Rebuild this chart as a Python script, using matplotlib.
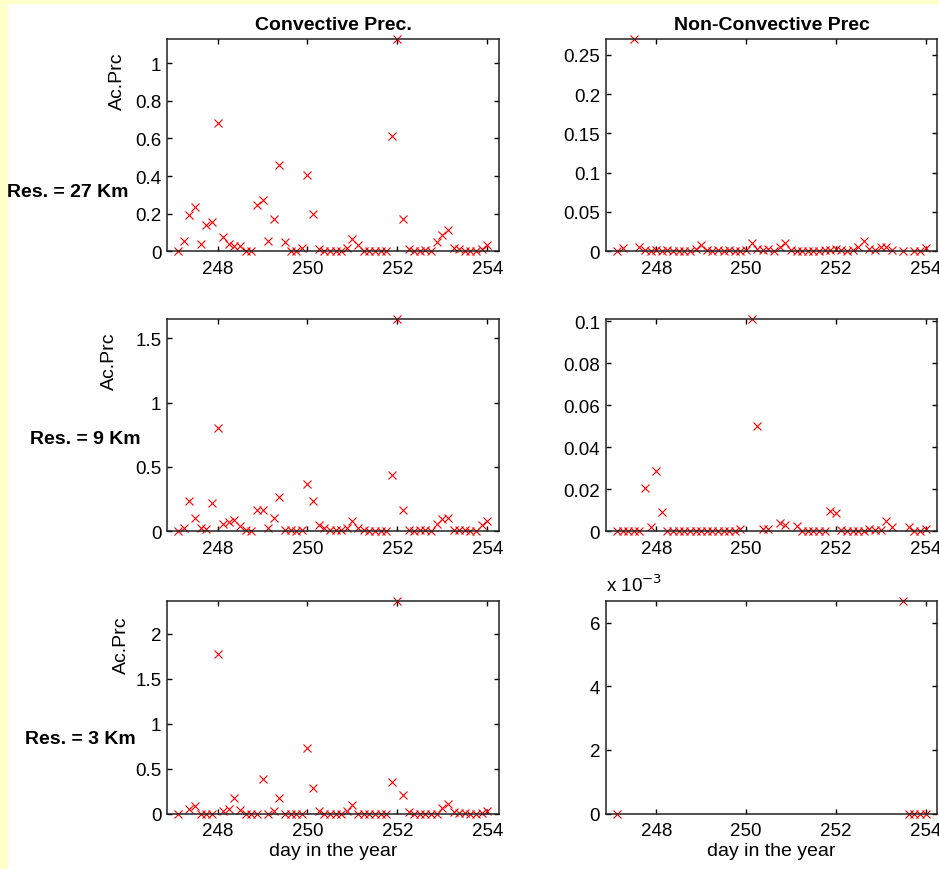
from matplotlib import pyplot as plt
import matplotlib.patches as patches
from matplotlib.ticker import FuncFormatter
import numpy as np

nan = np.nan

# 3-hourly steps, day of the year
dias = [247.125, 247.25, 247.375, 247.5, 247.625, 247.75, 247.875, 248.0,
        248.125, 248.25, 248.375, 248.5, 248.625, 248.75, 248.875, 249.0,
        249.125, 249.25, 249.375, 249.5, 249.625, 249.75, 249.875, 250.0,
        250.125, 250.25, 250.375, 250.5, 250.625, 250.75, 250.875, 251.0,
        251.125, 251.25, 251.375, 251.5, 251.625, 251.75, 251.875, 252.0,
        252.125, 252.25, 252.375, 252.5, 252.625, 252.75, 252.875, 253.0,
        253.125, 253.25, 253.375, 253.5, 253.625, 253.75, 253.875, 254.0]

conv_27 = [0.0, 0.057, 0.195, 0.234, 0.041, 0.142, 0.156, 0.684,
           0.076, 0.041, 0.027, 0.027, 0.0, 0.0, 0.248, 0.271,
           0.057, 0.172, 0.461, 0.05, 0.0, 0.004, 0.02, 0.408,
           0.2, 0.014, 0.004, 0.003, 0.003, 0.003, 0.02, 0.067,
           0.032, 0.003, 0.003, 0.003, 0.003, 0.003, 0.613, 1.128,
           0.172, 0.014, 0.0, 0.003, 0.005, 0.003, 0.05, 0.089,
           0.112, 0.02, 0.014, 0.003, 0.0, 0.0, 0.014, 0.032]
nconv_27 = [0.0, 0.004, nan, 0.27, 0.005, 0.002, 0.001, 0.002,
            0.001, 0.002, 0.001, 0.001, 0.0, 0.001, 0.003, 0.0085,
            0.002, 0.001, 0.002, 0.001, 0.002, 0.001, 0.001, 0.002,
            0.01, 0.003, 0.002, 0.003, 0.001, 0.006, 0.01, 0.002,
            0.001, 0.0, 0.0, 0.0, 0.001, 0.002, 0.002, 0.003,
            0.002, 0.001, 0.002, 0.005, 0.0127, 0.003, 0.002, 0.005,
            0.006, 0.002, nan, 0.001, nan, 0.0, 0.0, 0.004]

conv_9 = [0.0, 0.026, 0.235, 0.106, 0.026, 0.02, 0.22, 0.80,
          0.054, 0.072, 0.09, 0.039, 0.008, 0.0, 0.165, 0.165,
          0.026, 0.103, 0.266, 0.008, 0.008, 0.0, 0.013, 0.365,
          0.235, 0.047, 0.026, 0.008, 0.008, 0.008, 0.026, 0.078,
          0.026, 0.008, 0.0, 0.0, 0.0, 0.0, 0.434, 1.65,
          0.168, 0.008, 0.0, 0.008, 0.013, 0.005, 0.054, 0.096,
          0.106, 0.008, 0.008, 0.008, 0.005, 0.0, 0.047, 0.08]
nconv_9 = [0.0, 0.0, 0.0, 0.0, 0.0, 0.0205, 0.0019, 0.0286,
           0.0094, 0.0, 0.0, 0.0, 0.0, 0.0, 0.0, 0.0,
           0.0, 0.0, 0.0, 0.0, 0.0, 0.0, 0.001, nan,
           0.101, 0.0503, 0.001, 0.001, nan, 0.0038, 0.0032, nan,
           0.0025, 0.0, 0.0, 0.0, 0.0, 0.0, 0.0095, 0.0089,
           0.0006, 0.0, 0.0, 0.0, 0.0, 0.001, 0.0006, 0.0006,
           0.0048, 0.0019, nan, nan, 0.0019, 0.0, 0.0, 0.001]

conv_3 = [0.0, nan, 0.056, 0.082, 0.0, 0.0, 0.0, 1.777,
          0.026, 0.056, 0.174, 0.045, 0.0, 0.0, 0.0, 0.386,
          0.0, 0.026, 0.174, 0.0, 0.0, 0.0, 0.0, 0.73,
          0.286, 0.026, 0.0, 0.0, 0.0, 0.0, 0.026, 0.093,
          0.0, 0.0, 0.0, 0.0, 0.0, 0.0, 0.352, 2.36,
          0.204, 0.015, 0.0, 0.0, 0.0, 0.0, 0.0, 0.063,
          0.111, 0.015, 0.01, 0.01, 0.0, 0.0, 0.005, 0.026]
nconv_3 = [0.0, nan, nan, nan, nan, nan, nan, nan,
           nan, nan, nan, nan, nan, nan, nan, nan,
           nan, nan, nan, nan, nan, nan, nan, nan,
           nan, nan, nan, nan, nan, nan, nan, nan,
           nan, nan, nan, nan, nan, nan, nan, nan,
           nan, nan, nan, nan, nan, nan, nan, nan,
           nan, nan, nan, 0.00667, 0.0, 0.0, 0.0, 0.0]

resolucoes = ["Res. = 27 Km", "Res. = 9 Km", "Res. = 3 Km"]
titulos = ["Convective Prec.", "Non-Convective Prec"]
yticks_conv = [[0, 0.2, 0.4, 0.6, 0.8, 1], [0, 0.5, 1, 1.5], [0, 0.5, 1, 1.5, 2]]
yticks_nconv = [[0, 0.05, 0.1, 0.15, 0.2, 0.25], [0, 0.02, 0.04, 0.06, 0.08, 0.1],
                [0, 0.002, 0.004, 0.006]]
xticks = [248, 250, 252, 254]

plt.rcParams['font.family'] = ['Liberation Sans', 'DejaVu Sans']

W, H = 939, 870
fig = plt.figure(figsize=(W / 100, H / 100), dpi=100)
fig.patch.set_facecolor('white')
# pale yellow slide border (left and top)
fig.patches.append(patches.Rectangle((0, 0), 7 / W, 1, transform=fig.transFigure,
                                     color='#FFFFCC', zorder=-1))
fig.patches.append(patches.Rectangle((0, 1 - 4 / H), 1, 4 / H, transform=fig.transFigure,
                                     color='#FFFFCC', zorder=-1))

linhas_top = [40, 320, 602.3]
alt = 212.3
colunas = [(167, 499), (605.7, 937.3)]

dados = [(conv_27, nconv_27), (conv_9, nconv_9), (conv_3, nconv_3)]
fmt = FuncFormatter(lambda v, p: f'{v:g}')
fmt_e3 = FuncFormatter(lambda v, p: f'{v * 1e3:g}')

for i in range(3):
    for j in range(2):
        x0, x1 = colunas[j]
        top = linhas_top[i]
        ax = fig.add_axes([x0 / W, 1 - (top + alt) / H, (x1 - x0) / W, alt / H])
        vals = np.array(dados[i][j])
        ax.plot(dias, vals, 'x', color='red', markersize=6, mew=0.8, clip_on=False)
        ax.set_xlim(246.875, 254.26)
        ax.set_ylim(0, np.nanmax(vals))
        ax.set_xticks(xticks)
        ax.set_yticks(yticks_conv[i] if j == 0 else yticks_nconv[i])
        ax.xaxis.set_major_formatter(fmt)
        ax.yaxis.set_major_formatter(fmt_e3 if (i == 2 and j == 1) else fmt)
        ax.tick_params(direction='in', length=3.5, width=1, labelsize=13.5,
                       top=True, right=True)
        ax.tick_params(axis='x', pad=6)
        ax.tick_params(axis='y', pad=4)
        for s in ax.spines.values():
            s.set_linewidth(1.1)
            s.set_color('#222222')
        if i == 0:
            ax.set_title(titulos[j], fontsize=14, fontweight='bold', pad=7)
        if i == 2:
            ax.set_xlabel("day in the year", fontsize=14, labelpad=2)
        if i == 2 and j == 1:
            ax.text(0, 1.03, r'x 10$^{-3}$', transform=ax.transAxes, fontsize=13.5,
                    ha='left', va='bottom')

# row labels and y labels placed like the original
pos_res = [(67.5, 192.7), (85, 440), (80.5, 740)]
pos_ylab = [(117.5, 81.7), (109, 361.7), (121.7, 645)]
for i in range(3):
    fig.text(pos_res[i][0] / W, 1 - pos_res[i][1] / H, resolucoes[i], fontsize=14,
             fontweight='bold', ha='center', va='center')
    fig.text(pos_ylab[i][0] / W, 1 - pos_ylab[i][1] / H, "Ac.Prc", fontsize=14,
             rotation=90, ha='center', va='center')

fig.savefig('out.png', dpi=100)
